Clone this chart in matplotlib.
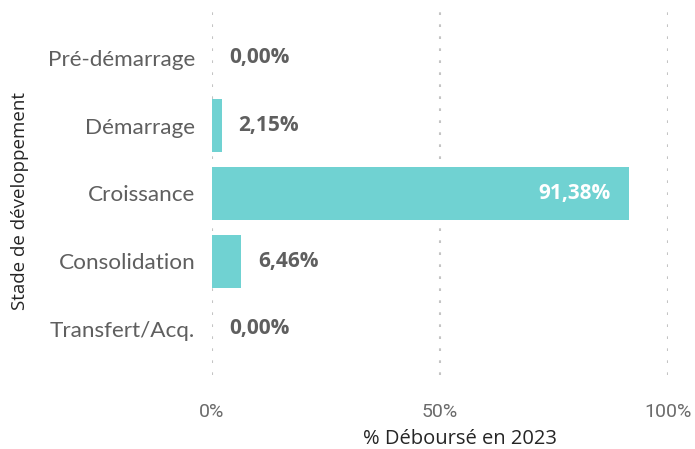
import matplotlib.pyplot as plt

stages = ['Pré-démarrage', 'Démarrage', 'Croissance', 'Consolidation', 'Transfert/Acq.']
pct = [0.00, 2.15, 91.38, 6.46, 0.00]
labels = ['0,00%', '2,15%', '91,38%', '6,46%', '0,00%']
ticks = [0, 50, 100]
tick_labels = ['0%', '50%', '100%']

fig = plt.figure(figsize=(6.95, 4.49), dpi=100)
ax = fig.add_axes([0.305, 0.165, 0.656, 0.824])

y = range(len(stages))
ax.barh(y, pct, height=0.78, color='#70D2D2', zorder=2)
ax.set_ylim(4.68, -0.78)
ax.set_xlim(0, 100)

for i, (v, s) in enumerate(zip(pct, labels)):
    if v > 50:
        ax.text(v - 4, i, s, ha='right', va='center', color='white',
                fontsize=15, fontweight='bold', family='Open Sans')
    else:
        ax.text(v + 3.7, i, s, ha='left', va='center', color='#5f5f5f',
                fontsize=15, fontweight='bold', family='Open Sans')

ax.set_yticks(list(y))
ax.set_yticklabels(stages, family='Lato', fontsize=16.2, color='#5f5f5f')
ax.set_xticks(ticks)
ax.set_xticklabels(tick_labels, family='Roboto', fontsize=14, color='#6b6b6b')
ax.tick_params(length=0)
ax.tick_params(axis='y', pad=12)
ax.tick_params(axis='x', pad=20)

ax.xaxis.grid(True, linestyle=(0, (1.3, 4.46)), color='#c4c4c4', linewidth=1.5, zorder=0)
for sp in ax.spines.values():
    sp.set_visible(False)

ax.set_xlabel('% Déboursé en 2023', family='Open Sans', fontsize=14.5, color='#252525',
              labelpad=6, x=0.543)
ax.set_ylabel('Stade de développement', family='Open Sans', fontsize=13.5,
              color='#252525', labelpad=14, y=0.47)

fig.savefig('out.png', dpi=100)
